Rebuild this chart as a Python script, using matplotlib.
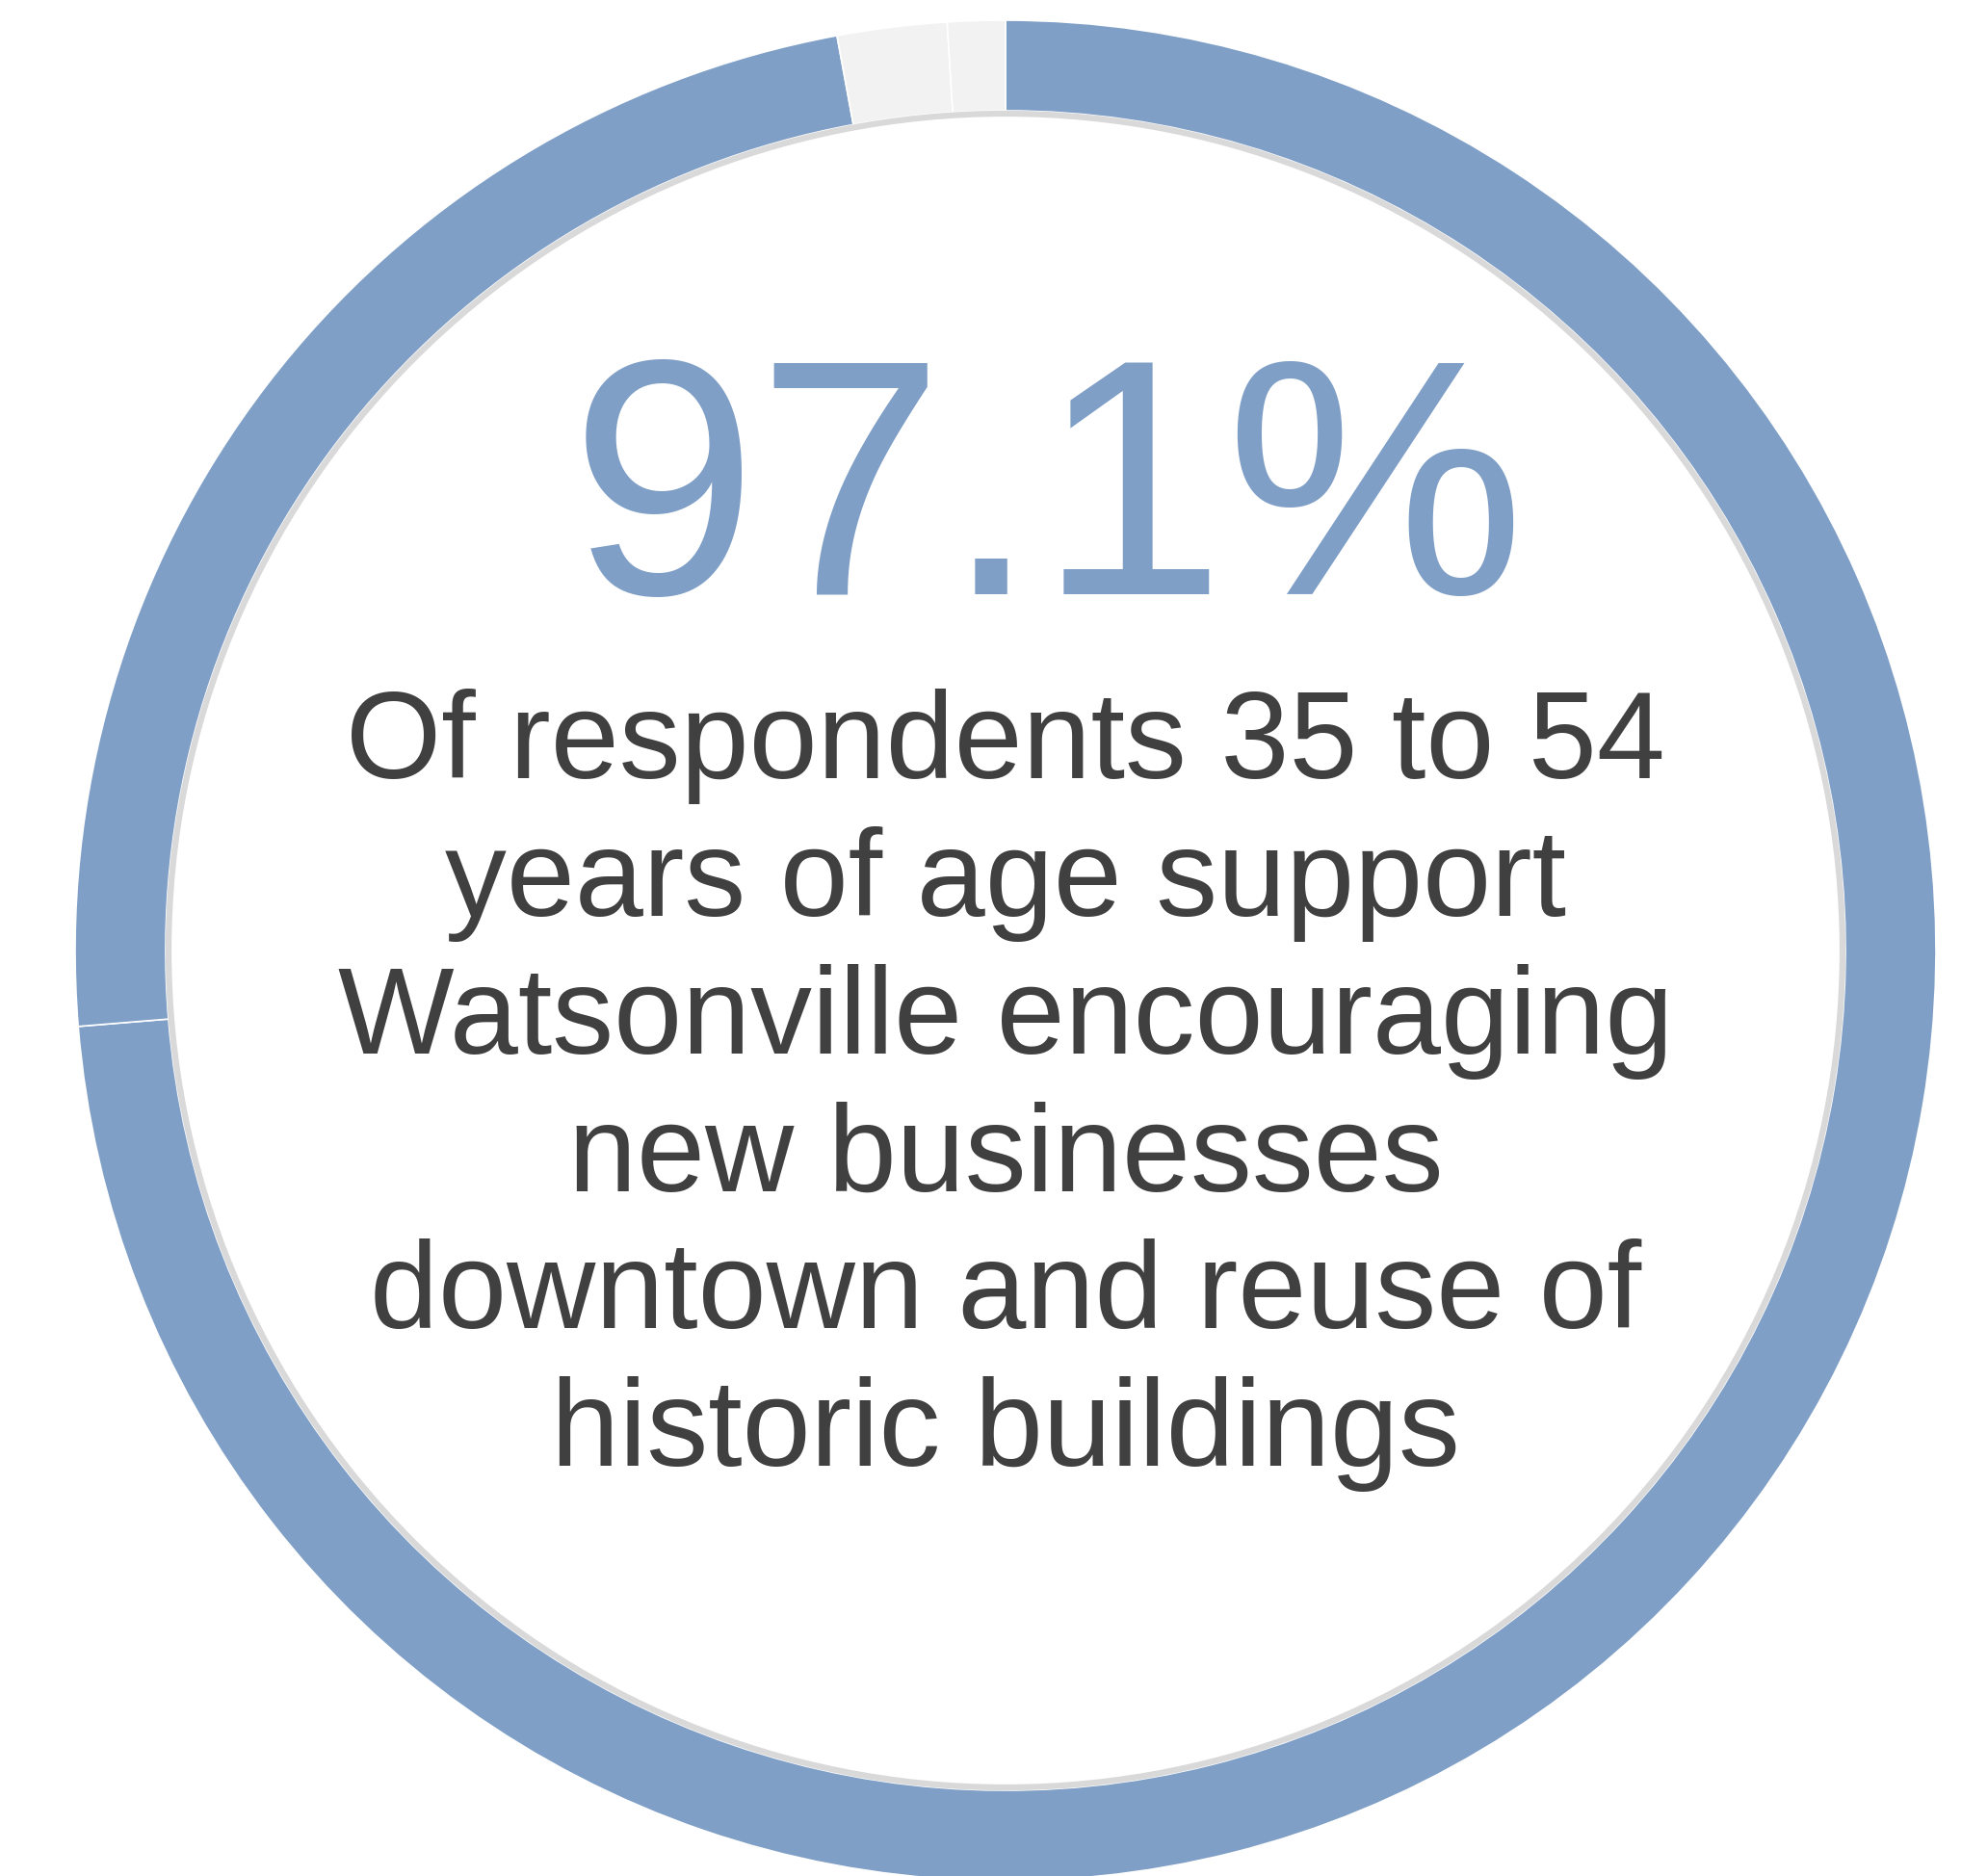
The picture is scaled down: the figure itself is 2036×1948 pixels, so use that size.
import matplotlib
matplotlib.use("Agg")
import matplotlib.pyplot as plt
from matplotlib.patches import Circle

# survey shares, clockwise from 12 o'clock
shares = [73.7, 23.4, 1.9, 1.0]
share_colors = ['#7f9fc7', '#7f9fc7', '#f2f2f2', '#f2f2f2']
headline = '97.1%'
caption = ['Of respondents 35 to 54',
           'years of age support',
           'Watsonville encouraging',
           'new businesses',
           'downtown and reuse of',
           'historic buildings']

W, H = 2036, 1949
cx, cy = 1044, H - 988
r_out, ring = 966, 94

fig = plt.figure(figsize=(W / 100, H / 100), dpi=100)
ax = fig.add_axes([0, 0, 1, 1])

ax.pie(shares, colors=share_colors, startangle=90, counterclock=False,
       center=(cx, cy), radius=r_out,
       wedgeprops=dict(width=ring, edgecolor='white', linewidth=1.2))

# faint rim just inside the ring
ax.add_patch(Circle((cx, cy), r_out - ring - 3, fill=False,
                    edgecolor='#d9d9d9', linewidth=4.5))

ax.set_xlim(0, W)
ax.set_ylim(0, H)
ax.set_aspect('auto')
ax.axis('off')

ax.text(1088, H - 617, headline, ha='center', va='baseline',
        fontsize=252, color='#7f9fc7', family='Liberation Sans')

for i, line in enumerate(caption):
    ax.text(cx, H - (808 + i * 142.8), line, ha='center', va='baseline',
            fontsize=92, color='#404040', family='Liberation Sans')

fig.savefig('out.png', dpi=100, facecolor='white')
